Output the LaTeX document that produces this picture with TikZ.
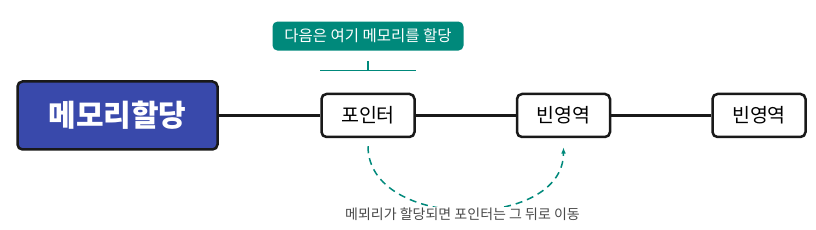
\documentclass[tikz,border=0pt]{standalone}
\usepackage{fontspec}
\setmainfont{Noto Sans CJK KR}
\usepackage{xcolor}
\usetikzlibrary{arrows.meta, positioning, calc}

\definecolor{memblue}{HTML}{3949AB}
\definecolor{memteal}{HTML}{00897B}
\definecolor{memgray}{HTML}{4A4A4A}

\begin{document}
\begin{tikzpicture}[
    x=1pt, y=1pt,
    node distance=100pt,
    >={Latex[length=2.2mm]},
    root/.style   ={rectangle, rounded corners=5pt, draw=black!90, fill=memblue,
                    line width=2.5pt, minimum width=200pt, minimum height=68pt,
                    text=white, font=\bfseries\fontsize{30}{34}\selectfont},
    cell/.style   ={rectangle, rounded corners=5pt, draw=black!90, fill=white,
                    line width=2.5pt, minimum width=93pt, minimum height=43pt,
                    font=\fontsize{19.5}{22}\selectfont},
    callout/.style={rectangle, rounded corners=5pt, fill=memteal, text=white,
                    minimum width=191pt, minimum height=29pt,
                    font=\fontsize{15.5}{18}\selectfont},
    link/.style   ={line width=2.5pt, draw=black!90},
    note/.style   ={fill=white, text=memgray, inner sep=1pt,
                    font=\fontsize{14}{16}\selectfont},
]
\useasboundingbox (0,0) rectangle (816,230);

% ---- Boxes ----
\node[root] (mem) at (117.5,114.5) {메모리할당};
\node[cell, right=101.5pt of mem] (ptr)   {포인터};
\node[cell, right=of ptr]         (heapa) {빈영역};
\node[cell, right=of heapa]       (heapb) {빈영역};

% ---- Links ----
\draw[link] (mem) -- (ptr);
\draw[link] (ptr) -- (heapa);
\draw[link] (heapa) -- (heapb);

% ---- Callout ----
\node[callout, above=42pt of ptr] (hint) {다음은 여기 메모리를 할당};
\coordinate (brl) at ($(ptr.north west)+(0,22pt)$);
\coordinate (brr) at ($(ptr.north east)+(0,22pt)$);
\coordinate (brm) at ($(brl)!0.5!(brr)$);
\draw[memteal, line width=1.5pt] (brl) -- (brr);
\draw[memteal, line width=1.5pt] (brm) -- ++(0,10pt);

% ---- Move ----
\draw[->, memteal, line width=1.5pt, dash pattern=on 7pt off 5pt]
   ($(ptr.south)+(0,-8pt)$) to[out=-90, in=-90, looseness=1.1] ($(heapa.south)+(0,-9pt)$);
\node[note] (move) at (462.5,16) {메뫼리가 할당되면 포인터는 그 뒤로 이동};

\end{tikzpicture}
\end{document}
